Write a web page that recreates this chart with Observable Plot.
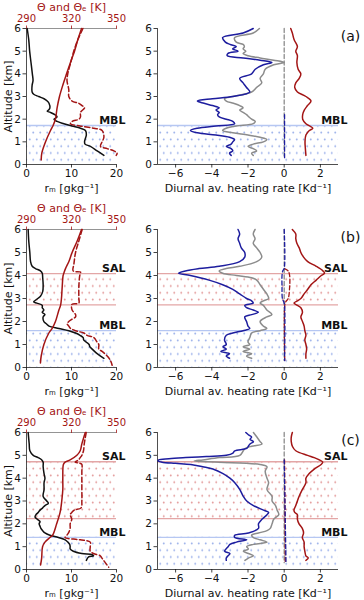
<!DOCTYPE html>
<html><head><meta charset="utf-8">
<script src="https://cdn.jsdelivr.net/npm/d3@7"></script>
<script src="https://cdn.jsdelivr.net/npm/@observablehq/plot@0.6"></script>
<style>
html,body{margin:0;padding:0;background:#fff;}
#fig{position:relative;width:364px;height:600px;overflow:hidden;background:#fff;}
#fig svg{position:absolute;}
</style></head><body>
<svg width="0" height="0" style="position:absolute">
<defs>
<pattern id="dotsBlue" width="7" height="13.6" patternUnits="userSpaceOnUse">
<circle cx="1.75" cy="3.4" r="1" fill="#9cb1ea"/><circle cx="5.25" cy="10.2" r="1" fill="#9cb1ea"/>
</pattern>
<pattern id="dotsRed" width="7" height="13.6" patternUnits="userSpaceOnUse">
<circle cx="1.75" cy="3.4" r="1" fill="#e39a9a"/><circle cx="5.25" cy="10.2" r="1" fill="#e39a9a"/>
</pattern>
</defs></svg>
<div id="fig"></div>
<script>
// ---------- scales / ticks ----------
const zDomain = [0, 6];
const zTicks = [0, 1, 2, 3, 4, 5, 6];
const rmDomain = [0, 20];
const rmTicks = [0, 10, 20];
const thetaDomain = [290, 350];
const thetaTicks = [290, 320, 350];
const hrDomain = [-7, 3];
const hrTicks = [-6, -4, -2, 0, 2];
const panelLetters = ["(a)", "(b)", "(c)"];

// ---------- row (a) ----------
const zRmA = [6.0,5.5,5.0,4.5,4.0,3.7,3.5,3.2,3.1,3.0,2.9,2.8,2.7,2.5,2.4,2.35,2.3,2.2,2.1,2.0,1.9,1.8,1.7,1.6,1.5,1.3,1.1,1.0,0.9,0.8,0.6,0.4];
const rmA = [0.15,0.5,0.7,1.0,1.3,1.45,1.25,1.25,1.6,2.7,3.9,4.6,5.0,5.2,4.9,4.6,5.3,6.3,6.8,6.1,6.8,8.3,10.1,12.0,13.1,13.3,13.0,12.9,13.0,14.2,15.7,17.2];
const zThA = [6,5.5,5,4.5,4,3.5,3,2.5,2,1.8,1.7,1.5,1.0,0.5,0.2];
const thA = [326.7,324.2,322,319.3,316.7,314.2,312,310.4,309.3,308.2,307.6,306,302.7,300.2,299.8];
const zTheA = [6,5.7,5.5,5.2,5,4.5,4,3.7,3.3,3,2.8,2.7,2.6,2.5,2.3,2.1,2,1.9,1.8,1.7,1.6,1.5,1.2,1,0.8,0.7,0.6,0.5,0.4];
const theA = [327.6,325.5,324.2,322.5,321.5,319.5,317.5,317,318.2,318.2,320.4,324.9,327,328.7,326,326,325,320.4,319.3,325.6,334.9,340.4,341.6,340.4,339.3,343.8,348.2,350.4,349.8];
const zHrA = [6,5.8,5.6,5.4,5.3,5.2,5.1,5.0,4.9,4.8,4.7,4.6,4.5,4.4,4.2,4.0,3.8,3.6,3.4,3.2,3.0,2.9,2.8,2.7,2.6,2.5,2.4,2.3,2.2,2.1,2.0,1.9,1.8,1.7,1.6,1.5,1.4,1.3,1.2,1.1,1.0,0.9,0.8,0.7,0.6,0.5,0.4];
const lwA = [-1.71,-2.27,-3.4,-3.25,-3.0,-2.65,-2.85,-2.55,-3.1,-3.15,-2.27,-1.33,-0.68,-1.15,-1.6,-1.8,-2.46,-2.27,-2.08,-1.9,-2.84,-3.96,-4.8,-4.43,-3.96,-3.59,-3.77,-3.59,-3.68,-3.59,-3.2,-2.84,-2.74,-3.77,-4.8,-5.18,-4.8,-3.77,-3.02,-2.74,-2.84,-2.93,-3.2,-2.93,-2.84,-3.02,-2.93];
const netA = [-1.37,-1.71,-2.74,-2.65,-2.27,-2.2,-2.27,-2.12,-2.27,-2.0,-1.33,-0.58,0,-0.58,-1.05,-1.15,-1.33,-1.24,-1.52,-1.8,-2.84,-3.3,-3.2,-2.8,-2.46,-2.27,-2.46,-2.27,-2.08,-1.95,-1.8,-1.6,-1.71,-2.65,-3.2,-3.4,-2.84,-2.0,-1.33,-0.96,-1.15,-1.71,-2.0,-1.71,-1.52,-1.8,-1.71];
const zSwA = [6,5.8,5.5,5.2,5.0,4.8,4.5,4.2,4.0,3.8,3.6,3.4,3.2,3.0,2.8,2.6,2.4,2.2,2.0,1.8,1.6,1.5,1.3,1.0,0.7,0.4];
const swA = [0.36,0.45,0.55,0.73,0.64,0.73,0.7,0.77,0.92,0.83,0.64,0.58,0.73,1.2,1.48,1.29,1.11,1.02,1.02,1.2,1.58,1.39,1.2,1.15,1.17,1.2];
const zAerLwA = [2.2, 0.3];
const aerLwA = [0.02, 0.02];
const zAerSwA = [];
const aerSwA = [];
const bandsA = [{name: "MBL", lo: 0, hi: 1.72}];

// ---------- row (b) ----------
const zRmB = [6,5.5,5,4.6,4.4,4.3,4.2,4.1,3.9,3.6,3.3,3.1,3.0,2.9,2.85,2.8,2.7,2.6,2.5,2.4,2.3,2.2,2.0,1.9,1.8,1.7,1.6,1.5,1.4,1.3,1.2,1.1,1.0,0.9,0.8,0.6,0.4];
const rmB = [0.37,0.5,0.74,0.9,1.26,2.0,3.1,3.5,3.6,3.7,3.6,3.1,2.5,1.85,1.6,2.3,3.5,3.5,3.85,3.5,4.1,3.7,3.85,4.4,5.0,7.2,9.4,10.9,11.9,12.6,12.7,13.3,13.9,14.1,14.6,15.7,17.2];
const zThB = [6,5.5,5,4.6,4.3,4.1,4.0,3.5,3.0,2.7,2.5,2.0,1.7,1.5,1.0,0.5,0.2];
const thB = [326.7,323.8,320.4,318.2,316,314.9,314.4,313.8,313.3,312.7,311.6,309.3,307.1,304.9,301.6,299.8,299.3];
const zTheB = [6,5.5,5,4.5,4.2,4.15,4.1,4.0,3.5,3.0,2.8,2.75,2.7,2.5,2.3,2.2,2.1,2.0,1.9,1.8,1.7,1.6,1.5,1.4,1.3,1.1,1.0,0.8,0.7,0.5,0.3,0.1];
const theB = [327.1,324.9,322.7,321.6,321.1,326,326,325.5,324.9,324.9,324.9,320.4,320,320.4,322.7,322.7,320.4,318.2,317.1,318.2,319.3,322.7,328.2,330.4,334.9,337.1,338.2,338.2,340.4,343.8,346,347.1];
const zLwB = [6,5.8,5.6,5.4,5.2,5.0,4.8,4.6,4.4,4.3,4.2,4.1,4.0,3.8,3.6,3.4,3.2,3.0,2.9,2.8,2.7,2.6,2.5,2.4,2.3,2.2,2.0,1.8,1.7,1.6,1.5,1.4,1.2,1.0,0.9,0.8,0.7,0.6,0.5,0.4];
const lwB = [-2.55,-2.46,-2.55,-2.46,-2.37,-2.18,-2.18,-2.46,-3.59,-4.71,-5.46,-5.84,-5.18,-4.15,-3.4,-2.84,-2.46,-2.08,-1.8,-1.71,-2.18,-2.08,-1.71,-1.43,-1.8,-2.18,-2.08,-2.0,-1.9,-2.27,-2.84,-3.2,-3.3,-3.2,-3.38,-3.2,-3.5,-3.02,-3.2,-3.02];
const zNetB = [6,5.8,5.6,5.4,5.2,5.0,4.8,4.6,4.4,4.3,4.2,4.1,4.0,3.9,3.8,3.6,3.4,3.2,3.0,2.9,2.8,2.7,2.5,2.3,2.2,2.0,1.8,1.7,1.6,1.5,1.3,1.1,1.0,0.9,0.8,0.7,0.6,0.5,0.4];
const netB = [-1.61,-1.71,-1.61,-1.71,-1.52,-1.33,-1.24,-1.52,-2.46,-3.2,-3.59,-3.4,-2.65,-1.8,-1.52,-1.33,-1.15,-0.96,-0.86,-1.15,-1.33,-1.15,-0.96,-0.68,-0.96,-1.33,-1.15,-0.96,-1.33,-1.8,-1.9,-2.0,-1.9,-2.27,-1.9,-2.27,-1.8,-2.08,-1.8];
const zSwB = [6,5.8,5.6,5.4,5.2,5.0,4.8,4.6,4.4,4.2,4.1,4.0,3.8,3.6,3.4,3.2,3.0,2.9,2.8,2.7,2.6,2.4,2.2,2.0,1.8,1.6,1.4,1.2,1.0,0.8,0.6,0.4];
const swB = [0.45,0.64,0.64,0.7,0.83,0.92,1.07,1.3,1.77,2.14,2.23,2.05,1.77,1.48,1.3,1.1,0.92,0.73,0.54,0.73,0.92,1.01,0.92,1.01,1.1,1.14,1.2,1.14,1.2,1.24,1.2,1.2];
const zAerLwB = [6,4.3,4.2,4.0,3.5,3.0,2.85,2.7,0.3];
const aerLwB = [0,0,-0.08,-0.12,-0.12,-0.1,-0.02,0.02,0.02];
const zAerSwB = [4.3,4.2,4.0,3.5,3.0,2.85,2.7,0.3];
const aerSwB = [0.02,0.22,0.3,0.3,0.22,0.08,0.03,0.03];
const bandsB = [{name: "SAL", lo: 2.72, hi: 4.08}, {name: "MBL", lo: 0, hi: 1.6}];

// ---------- row (c) ----------
const zRmC = [6,5.5,5.2,5.0,4.9,4.8,4.7,4.5,4.2,4.0,3.8,3.5,3.2,3.0,2.9,2.8,2.7,2.6,2.5,2.4,2.3,2.2,2.1,2.0,1.9,1.8,1.7,1.6,1.5,1.4,1.3,1.2,1.1,1.0,0.9,0.8,0.7,0.65,0.6,0.55,0.4];
const rmC = [0.37,0.6,0.75,1.5,2.6,3.4,3.7,3.7,3.9,4.1,3.9,3.9,3.7,4.5,4.85,4.1,3.6,3.0,2.6,2.1,1.9,2.4,3.0,2.8,3.0,3.2,3.6,4.1,5.2,7.1,8.6,9.2,9.6,9.7,9.7,10.4,12.3,14.6,14.9,13.8,13.3];
const zThC = [6,5.5,5.2,5.0,4.8,4.7,4.6,4.0,3.5,3.0,2.5,2.0,1.5,1.4,1.2,1.0,0.5,0.2];
const thC = [329.2,326.9,325.8,323.6,319.1,315.7,314.6,314.2,314.2,313.5,312.4,310.1,307.4,305.6,302.3,300.7,300.1,299.4];
const zTheC = [6,5.5,5.2,5.0,4.9,4.8,4.7,4.65,4.6,4.3,4.0,3.5,3.0,2.7,2.6,2.5,2.4,2.2,2.0,1.8,1.6,1.5,1.4,1.3,1.2,1.0,0.8,0.7,0.6,0.5,0.4,0.3,0.1];
const theC = [329.8,328.5,328,326.9,325.8,324.7,322.4,325.8,326.9,326.9,326.9,326.9,326.9,326.4,321.8,320.2,319.1,320.2,319.1,319.1,318,316.9,315.7,325.8,332.5,332.5,332.5,334.7,339.2,340.3,341.4,342.5,344.8];
const zLwC = [6,5.9,5.8,5.7,5.6,5.5,5.4,5.3,5.2,5.1,5.0,4.95,4.9,4.85,4.8,4.75,4.7,4.65,4.6,4.5,4.4,4.2,4.0,3.8,3.5,3.2,3.0,2.8,2.6,2.5,2.4,2.2,2.0,1.8,1.6,1.5,1.4,1.3,1.2,1.1,1.0,0.8,0.7,0.6,0.5,0.4];
const lwC = [-2.12,-1.98,-1.8,-1.89,-1.7,-1.89,-1.98,-2.07,-2.73,-2.83,-3.2,-4.3,-5.44,-6.37,-6.93,-6.97,-6.75,-6.0,-5.16,-4.5,-3.94,-3.38,-3.0,-2.73,-2.45,-2.26,-2.07,-1.7,-1.14,-0.86,-0.95,-1.23,-1.42,-1.42,-1.98,-2.73,-2.73,-2.07,-2.64,-3.0,-3.1,-3.29,-3.0,-3.1,-3.2,-3.2];
const zNetC = [6,5.8,5.6,5.5,5.4,5.3,5.2,5.0,4.9,4.8,4.75,4.7,4.6,4.5,4.3,4.0,3.8,3.5,3.2,3.0,2.8,2.6,2.4,2.2,2.0,1.8,1.7,1.6,1.5,1.4,1.3,1.2,1.1,1.0,0.9,0.8,0.7,0.6,0.5,0.4];
const netC = [-1.7,-1.51,-1.33,-1.23,-1.8,-2.17,-2.26,-2.45,-3.57,-4.5,-4.97,-3.57,-1.33,-0.95,-1.05,-0.95,-0.86,-0.95,-0.67,-0.67,-0.48,-0.39,-0.3,-0.58,-0.67,-0.77,-0.95,-1.42,-1.8,-1.7,-1.33,-0.95,-1.7,-2.07,-1.98,-2.26,-1.98,-1.7,-1.98,-2.17];
const zSwC = [6,5.8,5.6,5.4,5.2,5.0,4.9,4.8,4.7,4.6,4.4,4.2,4.0,3.8,3.5,3.2,3.0,2.8,2.6,2.5,2.4,2.2,2.0,1.8,1.6,1.4,1.2,1.0,0.8,0.6,0.5,0.4];
const swC = [0.45,0.39,0.39,0.45,0.64,1.29,1.66,1.94,2.13,2.04,1.66,1.38,1.2,1.2,1.0,0.82,0.73,0.64,0.54,0.58,0.73,0.73,0.82,1.0,1.07,1.0,1.1,1.1,1.14,1.2,1.33,1.2];
const zAerLwC = [4.8, 0.3];
const aerLwC = [0.0, 0.1];
const zAerSwC = [4.8, 0.3];
const aerSwC = [0.02, 0.06];
const bandsC = [{name: "SAL", lo: 2.23, hi: 4.72}, {name: "MBL", lo: 0, hi: 1.41}];

// zero-line of the dashed net-aerosol reference
const zZeroDash = [6, 0.3];
const zeroDash = [0, 0];

// ---------- build ----------
const pts = (z, v) => z.map((zz, i) => ({z: zz, v: v[i]}));
const rows = [
  {rm: pts(zRmA, rmA), th: pts(zThA, thA), the: pts(zTheA, theA), lw: pts(zHrA, lwA), net: pts(zHrA, netA), sw: pts(zSwA, swA), aLw: pts(zAerLwA, aerLwA), aSw: pts(zAerSwA, aerSwA), bands: bandsA},
  {rm: pts(zRmB, rmB), th: pts(zThB, thB), the: pts(zTheB, theB), lw: pts(zLwB, lwB), net: pts(zNetB, netB), sw: pts(zSwB, swB), aLw: pts(zAerLwB, aerLwB), aSw: pts(zAerSwB, aerSwB), bands: bandsB},
  {rm: pts(zRmC, rmC), th: pts(zThC, thC), the: pts(zTheC, theC), lw: pts(zLwC, lwC), net: pts(zNetC, netC), sw: pts(zSwC, swC), aLw: pts(zAerLwC, aerLwC), aSw: pts(zAerSwC, aerSwC), bands: bandsC}
];

const COL = {black: "#111111", red: "#a31515", blue: "#1d1d9e", gray: "#8c8c8c", mblLine: "#b6c7f2", salLine: "#e3a6a6"};
const toRm = t => rmDomain[0] + (t - thetaDomain[0]) / (thetaDomain[1] - thetaDomain[0]) * (rmDomain[1] - rmDomain[0]);
const toTheta = r => thetaDomain[0] + (r - rmDomain[0]) / (rmDomain[1] - rmDomain[0]) * (thetaDomain[1] - thetaDomain[0]);

const frameTop = [28, 229, 432];
const frameBottom = [164, 367, 569];
const FONT = "DejaVu Sans";
const baseStyle = {fontFamily: FONT, fontSize: "10.5px", background: "transparent", overflow: "visible", color: "#111"};
const curve = "catmull-rom";

function bandMarks(bands, xDom) {
  const mbl = bands.filter(b => b.name === "MBL");
  const sal = bands.filter(b => b.name === "SAL");
  return [
    Plot.rect(mbl, {x1: xDom[0], x2: xDom[1], y1: "lo", y2: "hi", fill: "url(#dotsBlue)"}),
    Plot.rect(sal, {x1: xDom[0], x2: xDom[1], y1: "lo", y2: "hi", fill: "url(#dotsRed)"}),
    Plot.ruleY(mbl, {y: "hi", stroke: COL.mblLine, strokeWidth: 1.3}),
    Plot.ruleY(sal, {y: "hi", stroke: COL.salLine, strokeWidth: 1.3}),
    Plot.ruleY(sal, {y: "lo", stroke: COL.salLine, strokeWidth: 1.3})
  ];
}
function bandLabels(bands, xDom) {
  return Plot.text(bands, {x: xDom[1], y: "hi", text: "name", textAnchor: "end", dx: 9, dy: -5, fontWeight: "bold", fontSize: 11, fill: "#111"});
}

const fig = document.getElementById("fig");

rows.forEach((r, i) => {
  const h = frameBottom[i] - frameTop[i];
  const left = Plot.plot({
    width: 140, height: h + 64, marginLeft: 26, marginRight: 24, marginTop: 28, marginBottom: 36,
    x: {domain: rmDomain, label: null}, y: {domain: zDomain, label: null},
    style: baseStyle,
    marks: [
      ...bandMarks(r.bands, rmDomain),
      Plot.ruleX([rmDomain[0]], {stroke: "#222", strokeWidth: 0.8}),
      Plot.ruleY([zDomain[0]], {stroke: "#222", strokeWidth: 0.8}),
      Plot.ruleY([zDomain[1]], {stroke: "#888", strokeWidth: 0.9}),
      Plot.axisY(zTicks, {tickSize: 3.5, tickPadding: 2, strokeWidth: 0.8, fontSize: 10.5, label: null}),
      Plot.axisX(rmTicks, {anchor: "bottom", tickSize: 3.5, tickPadding: 1.5, strokeWidth: 0.8, fontSize: 10.5, label: null}),
      Plot.axisX(thetaTicks.map(toRm), {anchor: "top", tickSize: 3.5, tickPadding: 3.5, strokeWidth: 0.8, fontSize: 10, label: null, color: COL.red, tickFormat: d => String(Math.round(toTheta(d)))}),
      Plot.line(r.rm, {x: "v", y: "z", stroke: COL.black, strokeWidth: 1.5, curve}),
      Plot.line(r.th, {x: d => toRm(d.v), y: "z", stroke: COL.red, strokeWidth: 1.5, curve}),
      Plot.line(r.the, {x: d => toRm(d.v), y: "z", stroke: COL.red, strokeWidth: 1.5, strokeDasharray: "5,2.6", curve}),
      bandLabels(r.bands, rmDomain),
      Plot.text(["Altitude [km]"], {frameAnchor: "left", rotate: -90, dx: -18, textAnchor: "middle", lineAnchor: "middle", fontSize: 11, fill: "#111"}),
      Plot.text(["rₘ [gkg⁻¹]"], {frameAnchor: "bottom", dy: 24, textAnchor: "middle", lineAnchor: "middle", fontSize: 11, fill: "#111"}),
      Plot.text(["Θ and Θₑ [K]"], {frameAnchor: "top", dy: -21.5, textAnchor: "middle", lineAnchor: "middle", fontSize: 11, fill: COL.red})
    ]
  });
  left.style.left = "0px";
  left.style.top = (frameTop[i] - 28) + "px";
  fig.appendChild(left);

  const right = Plot.plot({
    width: 244, height: h + 64, marginLeft: 37, marginRight: 26, marginTop: 28, marginBottom: 36,
    x: {domain: hrDomain, label: null}, y: {domain: zDomain, label: null},
    style: baseStyle,
    marks: [
      ...bandMarks(r.bands, hrDomain),
      Plot.ruleX([hrDomain[0]], {stroke: "#222", strokeWidth: 0.8}),
      Plot.ruleY([zDomain[0]], {stroke: "#222", strokeWidth: 0.8}),
      Plot.axisY(zTicks, {tickSize: 3.5, tickPadding: 2, strokeWidth: 0.8, fontSize: 10.5, label: null}),
      Plot.axisX(hrTicks, {anchor: "bottom", tickSize: 3.5, tickPadding: 1.5, strokeWidth: 0.8, fontSize: 10.5, label: null}),
      Plot.line(pts(zZeroDash, zeroDash), {x: "v", y: "z", stroke: COL.gray, strokeWidth: 1.3, strokeDasharray: "4,2.5"}),
      Plot.line(r.aSw, {x: "v", y: "z", stroke: COL.red, strokeWidth: 1.3, strokeDasharray: "4,2.5", curve}),
      Plot.line(r.aLw, {x: "v", y: "z", stroke: COL.blue, strokeWidth: 1.3, strokeDasharray: "4,2.5", curve}),
      Plot.line(r.net, {x: "v", y: "z", stroke: COL.gray, strokeWidth: 1.5, curve}),
      Plot.line(r.lw, {x: "v", y: "z", stroke: COL.blue, strokeWidth: 1.5, curve}),
      Plot.line(r.sw, {x: "v", y: "z", stroke: COL.red, strokeWidth: 1.5, curve}),
      bandLabels(r.bands, hrDomain),
      Plot.text([panelLetters[i]], {frameAnchor: "top-right", dx: 12, dy: 8, textAnchor: "middle", lineAnchor: "middle", fontSize: 14, fill: "#111"}),
      Plot.text(["Diurnal av. heating rate [Kd⁻¹]"], {frameAnchor: "bottom", dy: 24, textAnchor: "middle", lineAnchor: "middle", fontSize: 11, fill: "#111"})
    ]
  });
  right.style.left = "120px";
  right.style.top = (frameTop[i] - 28) + "px";
  fig.appendChild(right);
});
</script>
</body></html>
